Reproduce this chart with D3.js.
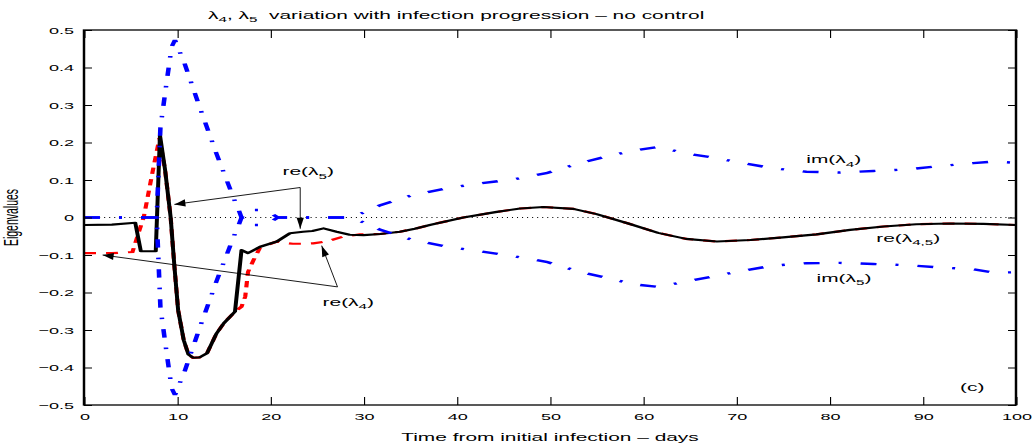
<!DOCTYPE html>
<html><head><meta charset="utf-8">
<script src="https://cdn.jsdelivr.net/npm/d3@7"></script>
<style>
html,body{margin:0;padding:0;background:#fff;}
svg{display:block;font-family:"Liberation Sans",Arial,Helvetica,sans-serif;}
text{white-space:pre;}
</style></head><body>
<svg id="chart" width="1034" height="447"></svg>
<script>
// ---- data ----
const tRe4 = [0, 3, 5.2, 5.8, 6.4, 6.8, 7.4, 8.1, 8.7, 9.3, 9.7, 10.1, 10.7, 11.2, 11.7, 12.4, 13.2, 14.2, 15.0, 16.2, 16.9, 17.3, 17.6, 18.2, 18.9, 20.7, 21.5, 22.4, 23.5, 24.6, 26, 27.8, 29.6, 31.8, 33.9, 35.5, 37.1, 40.7, 44.3, 46.8, 49.3, 52.5, 55.0, 58.4, 61.6, 64.6, 67.9, 71.5, 75, 78.6, 82.2, 85.8, 89.3, 92.9, 96.5, 100];
const re4 = [-0.095, -0.095, -0.092, -0.045, 0.000, 0.050, 0.127, 0.212, 0.127, 0.000, -0.130, -0.247, -0.327, -0.365, -0.374, -0.373, -0.362, -0.310, -0.282, -0.251, -0.238, -0.211, -0.145, -0.113, -0.080, -0.064, -0.068, -0.070, -0.070, -0.069, -0.064, -0.051, -0.045, -0.044, -0.038, -0.030, -0.020, 0.000, 0.015, 0.024, 0.028, 0.023, 0.009, -0.016, -0.041, -0.057, -0.064, -0.060, -0.053, -0.045, -0.033, -0.024, -0.018, -0.016, -0.017, -0.020];

const tRe5 = [0, 3, 5.5, 6.1, 7.7, 8.15, 8.7, 9.3, 9.7, 10.1, 10.7, 11.2, 11.7, 12.4, 13.2, 14.2, 15.0, 16.2, 16.9, 17.6, 18.9, 20.7, 22.1, 23.5, 24.5, 25.7, 27.1, 28.5, 30, 31.8, 33.9, 35.5, 37.1, 40.7, 44.3, 46.8, 49.3, 52.5, 55.0, 58.4, 61.6, 64.6, 67.9, 71.5, 75, 78.6, 82.2, 85.8, 89.3, 92.9, 96.5, 100];
const re5 = [-0.020, -0.019, -0.014, -0.090, -0.090, 0.220, 0.127, 0.000, -0.130, -0.247, -0.327, -0.365, -0.374, -0.373, -0.362, -0.310, -0.282, -0.251, -0.087, -0.095, -0.078, -0.064, -0.042, -0.038, -0.036, -0.029, -0.038, -0.046, -0.047, -0.044, -0.038, -0.030, -0.020, 0.000, 0.015, 0.024, 0.028, 0.023, 0.009, -0.016, -0.041, -0.057, -0.064, -0.060, -0.053, -0.045, -0.033, -0.024, -0.018, -0.016, -0.017, -0.020];

const tIm = [0, 7.8, 8.05, 8.2, 8.9, 9.4, 9.76, 10.8, 12.4, 14.2, 16.0, 16.6, 16.9, 17.4, 17.8, 19.2, 20.0, 20.8, 28.5, 30, 31.8, 35.3, 38.9, 42.5, 46.1, 49.6, 53.2, 56.8, 58.9, 61.6, 64.6, 67.9, 70.7, 74, 77.5, 81.1, 84.7, 88.3, 91.8, 95.4, 97.6, 100];
const im4 = [0, 0, 0.15, 0.24, 0.367, 0.455, 0.473, 0.41, 0.295, 0.171, 0.055, 0.02, 0, 0.015, 0.02, 0.02, 0.012, 0, 0, 0.013, 0.033, 0.06, 0.078, 0.091, 0.102, 0.118, 0.145, 0.167, 0.178, 0.188, 0.171, 0.158, 0.145, 0.131, 0.122, 0.12, 0.124, 0.128, 0.137, 0.145, 0.149, 0.146];
const im5 = [0, 0, -0.15, -0.24, -0.367, -0.455, -0.473, -0.41, -0.295, -0.171, -0.055, -0.02, 0, -0.015, -0.02, -0.02, -0.012, 0, 0, -0.013, -0.033, -0.06, -0.078, -0.09, -0.103, -0.118, -0.145, -0.165, -0.178, -0.185, -0.171, -0.155, -0.142, -0.128, -0.122, -0.121, -0.124, -0.127, -0.133, -0.138, -0.147, -0.146];

const xTicks = [0, 10, 20, 30, 40, 50, 60, 70, 80, 90, 100];
const xTickLabels = ["0", "10", "20", "30", "40", "50", "60", "70", "80", "90", "100"];
const yTicks = [-0.5, -0.4, -0.3, -0.2, -0.1, 0, 0.1, 0.2, 0.3, 0.4, 0.5];
const yTickLabels = ["\u22120.5", "\u22120.4", "\u22120.3", "\u22120.2", "\u22120.1", "0", "0.1", "0.2", "0.3", "0.4", "0.5"];

const titleParts = [["λ", 0], ["4", 1], [", λ", 0], ["5", 1], ["  variation with infection progression \u2013 no control", 0]];
const xLabel = "Time from initial infection \u2013 days";
const yLabel = "Eigenvalues";

// annotation texts (data coordinates)
const labels = [
  {parts: [["re(λ", 0], ["5", 1], [")", 0]], t: 21.3, v: 0.112},
  {parts: [["re(λ", 0], ["4", 1], [")", 0]], t: 25.6, v: -0.236},
  {parts: [["im(λ", 0], ["4", 1], [")", 0]], t: 77.5, v: 0.145},
  {parts: [["re(λ", 0], ["4,5", 1], [")", 0]], t: 85.0, v: -0.065},
  {parts: [["im(λ", 0], ["5", 1], [")", 0]], t: 78.6, v: -0.171},
  {parts: [["(c)", 0]], t: 94.0, v: -0.463}
];
const arrows = [
  {corner: [23.2, 0.08], tips: [[9.7, 0.035], [23.2, -0.03]]},
  {corner: [27.2, -0.185], tips: [[2.0, -0.1], [25.5, -0.075]]}
];

// ---- layout ----
const S = 1.9;               // horizontal stretch of the original figure
const L = 84, R = 1016, T = 30, B = 405;
const svg = d3.select('#chart');
const xs = d3.scaleLinear().domain([0, 100]).range([L / S, R / S]);
const xr = d3.scaleLinear().domain([0, 100]).range([L, R]);
const y = d3.scaleLinear().domain([-0.5, 0.5]).range([B, T]);

const g = svg.append('g').attr('transform', `scale(${S},1)`);

function rich(sel, parts, sub) {
  let shifted = false;
  parts.forEach(([txt, isSub]) => {
    const ts = sel.append('tspan').text(txt);
    if (isSub && !shifted) { ts.attr('dy', 3.5).attr('font-size', sub); shifted = true; }
    else if (isSub) { ts.attr('font-size', sub); }
    else if (!isSub && shifted) { ts.attr('dy', -3.5); shifted = false; }
  });
}

// zero dotted line
g.append('line')
  .attr('x1', xs(0)).attr('x2', xs(100)).attr('y1', y(0)).attr('y2', y(0))
  .attr('stroke', '#000').attr('stroke-width', 1).attr('stroke-dasharray', '0.55,2.1');

// series
const line = (tt, vv) => d3.line().x((d, i) => xs(tt[i])).y(d => y(d))(vv);
g.append('path').attr('d', line(tRe4, re4)).attr('fill', 'none')
  .attr('stroke', '#ff0000').attr('stroke-width', 2.2).attr('stroke-dasharray', '6.3,5.3');
g.append('path').attr('d', line(tRe5, re5)).attr('fill', 'none')
  .attr('stroke', '#000').attr('stroke-width', 2.1).attr('stroke-linejoin', 'round');
g.append('path').attr('d', line(tIm, im4)).attr('fill', 'none')
  .attr('stroke', '#0000ff').attr('stroke-width', 2.4).attr('stroke-dasharray', '8.4,10,1.6,10');
g.append('path').attr('d', line(tIm, im5)).attr('fill', 'none')
  .attr('stroke', '#0000ff').attr('stroke-width', 2.4).attr('stroke-dasharray', '8.4,10,1.6,10');

// axes
function styleAxis(ax, tickW) {
  ax.select('.domain').remove();
  ax.attr('font-family', null).attr('font-size', null);
  ax.selectAll('.tick line').attr('stroke', '#000').attr('stroke-width', tickW);
  ax.selectAll('.tick text').attr('fill', '#000').attr('font-size', 9.5);
}
const axB = g.append('g').attr('transform', `translate(0,${B})`)
  .call(d3.axisBottom(xs).tickValues(xTicks).tickFormat((d, i) => xTickLabels[i]).tickSizeInner(-8).tickSizeOuter(0).tickPadding(8));
styleAxis(axB, 0.6);
const axT = g.append('g').attr('transform', `translate(0,${T})`)
  .call(d3.axisTop(xs).tickValues(xTicks).tickFormat('').tickSizeInner(-8).tickSizeOuter(0));
styleAxis(axT, 0.6);
const axL = g.append('g').attr('transform', `translate(${L / S},0)`)
  .call(d3.axisLeft(y).tickValues(yTicks).tickFormat((d, i) => yTickLabels[i]).tickSizeInner(-8 / S).tickSizeOuter(0).tickPadding(10 / S));
styleAxis(axL, 1);
const axR = g.append('g').attr('transform', `translate(${R / S},0)`)
  .call(d3.axisRight(y).tickValues(yTicks).tickFormat('').tickSizeInner(-8 / S).tickSizeOuter(0));
styleAxis(axR, 1);

g.append('rect').attr('x', L / S).attr('y', T).attr('width', (R - L) / S).attr('height', B - T)
  .attr('fill', 'none').attr('stroke', '#000').attr('stroke-width', 1.3);

// title and axis labels
rich(g.append('text').attr('x', 208 / S).attr('y', 19).attr('font-size', 11).attr('fill', '#000'), titleParts, 8);
g.append('text').attr('x', (L + R) / 2 / S).attr('y', 441).attr('text-anchor', 'middle')
  .attr('font-size', 11).attr('fill', '#000').text(xLabel);
g.append('text').attr('transform', `translate(${18 / S},${(T + B) / 2}) rotate(-90)`)
  .attr('text-anchor', 'middle').attr('font-size', 10.5).attr('fill', '#000').text(yLabel);

// annotation labels
labels.forEach(lb => {
  rich(g.append('text').attr('x', xs(lb.t)).attr('y', y(lb.v)).attr('font-size', 11).attr('fill', '#000'), lb.parts, 8);
});

// annotation arrows (unstretched)
const ann = svg.append('g');
arrows.forEach(a => {
  const cx = xr(a.corner[0]), cy = y(a.corner[1]);
  a.tips.forEach(tp => {
    const px = xr(tp[0]), py = y(tp[1]);
    ann.append('line').attr('x1', cx).attr('y1', cy).attr('x2', px).attr('y2', py)
      .attr('stroke', '#000').attr('stroke-width', 0.9);
    const dx = px - cx, dy = py - cy, len = Math.hypot(dx, dy);
    const ux = dx / len, uy = dy / len, hl = 11, hw = 3.6;
    const bx = px - ux * hl, by = py - uy * hl;
    ann.append('path')
      .attr('d', `M${px},${py}L${bx - uy * hw},${by + ux * hw}L${bx + uy * hw},${by - ux * hw}Z`)
      .attr('fill', '#000');
  });
});
</script>
</body></html>
